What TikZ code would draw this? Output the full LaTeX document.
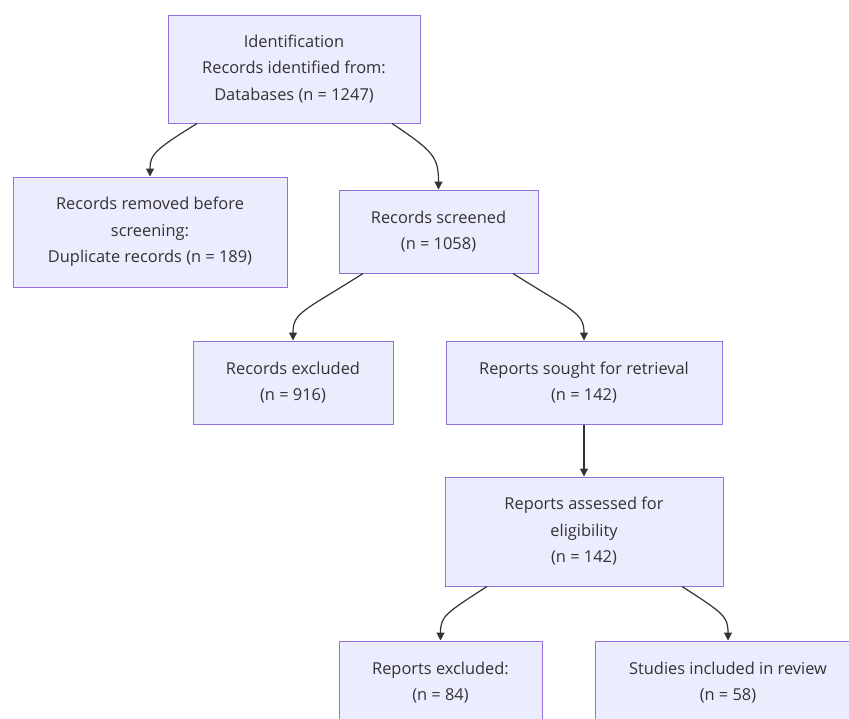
\documentclass[tikz,border=0pt]{standalone}
\usepackage{fontspec}
\setmainfont{Open Sans}
\usetikzlibrary{arrows.meta,calc}
\definecolor{boxfill}{HTML}{ECECFF}
\definecolor{boxline}{HTML}{9370DB}
\definecolor{txt}{HTML}{333333}
\tikzset{
  box/.style={draw=boxline, fill=boxfill, line width=1pt, inner sep=0pt, align=center,
    text=txt, font=\fontsize{16.4}{26.5}\selectfont},
  link/.style={draw=txt, line width=1.2pt, -{Triangle[length=8pt,width=8pt]}}
}
\begin{document}
\begin{tikzpicture}[x=1pt,y=-1pt]
\useasboundingbox (0,0) rectangle (849,718);
\clip (0,0) rectangle (849,718);
\fill[white] (0,0) rectangle (849,718);
\node[box, minimum width=252pt, minimum height=108pt] (id) at (294,69)
  {Identification\\Records identified from:\\Databases (n = 1247)};
\node[box, minimum width=274pt, minimum height=110pt] (rem) at (150,232)
  {Records removed before\\screening:\\Duplicate records (n = 189)};
\node[box, minimum width=199pt, minimum height=83pt] (scr) at (438.5,231.5)
  {Records screened\\(n = 1058)};
\node[box, minimum width=200pt, minimum height=83pt] (exc) at (293,382.5)
  {Records excluded\\(n = 916)};
\node[box, minimum width=276pt, minimum height=83pt] (sought) at (584,382.5)
  {Reports sought for retrieval\\(n = 142)};
\node[box, minimum width=278pt, minimum height=109pt] (ass) at (584,531.5)
  {Reports assessed for\\eligibility\\(n = 142)};
\node[box, minimum width=203pt, minimum height=83pt] (rexc) at (440.5,682.5)
  {Reports excluded:\\(n = 84)};
\node[box, minimum width=266pt, minimum height=83pt] (stud) at (728,682.5)
  {Studies included in review\\(n = 58)};
\draw[link] ([xshift=-97pt]id.south) .. controls +(-42,26) and +(0,-22) .. (rem.north);
\draw[link] ([xshift=98pt]id.south) .. controls +(42,28) and +(0,-32) .. (scr.north);
\draw[link] ([xshift=-75.5pt]scr.south) .. controls +(-60,38) and +(0,-28) .. (exc.north);
\draw[link] ([xshift=74.5pt]scr.south) .. controls +(60,38) and +(0,-28) .. (sought.north);
\draw[link] (sought.south) -- (ass.north);
\draw[link] ([xshift=-97pt]ass.south) .. controls +(-42,27) and +(0,-24) .. (rexc.north);
\draw[link] ([xshift=98pt]ass.south) .. controls +(42,27) and +(0,-24) .. (stud.north);
\end{tikzpicture}
\end{document}
